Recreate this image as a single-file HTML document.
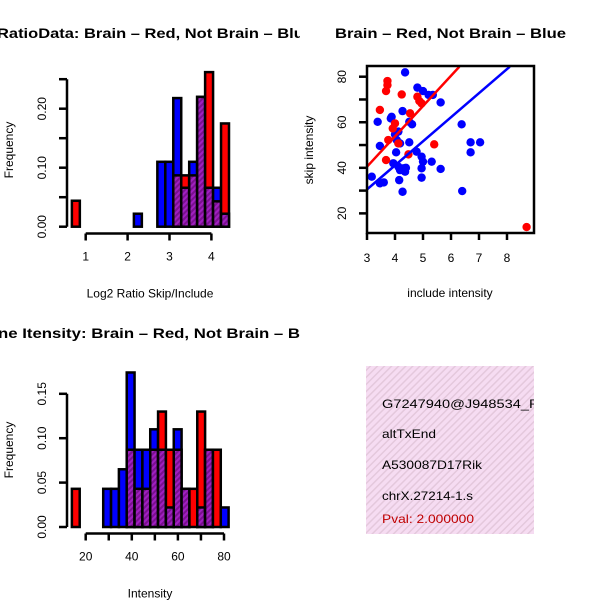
<!DOCTYPE html>
<html><head><meta charset="utf-8"><style>
html,body{margin:0;padding:0;background:#fff}
svg{display:block;font-family:"Liberation Sans",sans-serif}
</style></head><body>
<svg id="s" width="600" height="600" viewBox="0 0 600 600">
<defs>
<pattern id="hatch" patternUnits="userSpaceOnUse" width="4" height="4" patternTransform="rotate(45)">
<rect width="4" height="4" fill="#a020c0"/><rect width="2" height="4" fill="#7a1090"/></pattern>
<pattern id="pink" patternUnits="userSpaceOnUse" width="5" height="5" patternTransform="rotate(45)">
<rect width="5" height="5" fill="#f6dcf2"/><rect width="1.5" height="5" fill="#e4c8dc"/></pattern>
<clipPath id="cl"><rect x="0" y="0" width="300" height="600"/></clipPath>
<clipPath id="cr"><rect x="300" y="0" width="234" height="600"/></clipPath>
<clipPath id="sc"><rect x="367" y="66" width="167" height="167"/></clipPath>
</defs>
<g clip-path="url(#cl)">
<text x="-3" y="38" font-size="14" font-weight="bold" textLength="316" lengthAdjust="spacingAndGlyphs">RatioData: Brain – Red, Not Brain – Blue</text>
<text x="-2" y="338" font-size="14" font-weight="bold" textLength="302" lengthAdjust="spacingAndGlyphs">ne Itensity: Brain – Red, Not Brain – B</text>
</g>
<text x="335" y="38" font-size="14" font-weight="bold" textLength="231" lengthAdjust="spacingAndGlyphs">Brain – Red, Not Brain – Blue</text>
<g id="h1"></g>
<g id="h2"></g>
<g id="sp"></g>
<g clip-path="url(#cr)" font-size="12">
<rect x="366" y="366" width="168" height="168" fill="url(#pink)"/>
<text x="382" y="408" textLength="168" lengthAdjust="spacingAndGlyphs">G7247940@J948534_RC</text>
<text x="382" y="438" textLength="54" lengthAdjust="spacingAndGlyphs">altTxEnd</text>
<text x="382" y="469" textLength="100" lengthAdjust="spacingAndGlyphs">A530087D17Rik</text>
<text x="382" y="500" textLength="91" lengthAdjust="spacingAndGlyphs">chrX.27214-1.s</text>
<text x="382" y="523" fill="#c00000" textLength="92" lengthAdjust="spacingAndGlyphs">Pval: 2.000000</text>
</g>
</svg>
<script>
// Ratio histogram data
const ratioBinStarts=[0.67,2.15,2.71,2.90,3.09,3.28,3.47,3.66,3.85,4.04,4.23];
const ratioRed=[0.044,0,0,0,0.087,0.087,0.087,0.22,0.262,0.043,0.175];
const ratioBlue=[0,0.022,0.11,0.11,0.218,0.066,0.11,0.22,0.066,0.066,0.022];
const ratioXTicks=[1,2,3,4];
const ratioYTicks=[0,0.05,0.10,0.15,0.20,0.25];
const ratioYLabels=["0.00","","0.10","","0.20",""];
// Intensity histogram data
const intBinStarts=[14.0,17.4,20.8,24.2,27.6,31.0,34.4,37.8,41.2,44.6,48.0,51.4,54.8,58.2,61.6,65.0,68.4,71.8,75.2,78.6];
const intRed=[0.043,0,0,0,0,0,0,0.087,0.043,0.043,0.087,0.13,0.087,0.087,0.043,0.043,0.13,0.087,0.087,0];
const intBlue=[0,0,0,0,0.043,0.043,0.065,0.174,0.087,0.087,0.11,0.087,0.022,0.11,0.043,0,0.022,0.087,0,0.022];
const intXTicks=[20,30,40,50,60,70,80];
const intXLabels=["20","","40","","60","","80"];
const intYTicks=[0,0.05,0.10,0.15];
const intYLabels=["0.00","0.05","0.10","0.15"];
// Scatter data
const blueX=[4.36,3.38,3.46,3.17,3.46,3.6,3.85,3.88,4.0,4.06,4.12,4.18,4.04,3.94,4.12,4.18,4.3,4.36,4.39,4.15,4.27,4.27,4.51,4.61,4.51,4.77,4.8,5.0,5.2,5.35,4.95,5.0,4.95,4.95,5.31,5.63,5.63,6.38,6.4,6.7,7.04,6.7];
const blueY=[81.9,60.2,49.6,36.1,33.2,33.6,61.7,62.4,54.7,52.2,55.9,50.7,46.8,42.0,40.5,39.0,39.8,38.3,40,34.6,29.5,64.9,60.2,59.1,51.2,47.1,75.2,73.7,72,72,44.9,42.7,39.8,35.7,42.7,68.7,39.5,59.1,29.8,51.2,51.2,46.8];
const redX=[3.73,3.73,3.68,3.46,4.24,4.8,4.87,4.95,3.92,4.0,3.76,3.68,4.12,4.48,4.54,5.4,8.7];
const redY=[78.1,76.3,73.7,65.4,72.2,71.2,69.3,68.3,57.3,59.5,52.2,43.4,50.7,45.9,63.9,50.3,14];
const fitRed=[3.0,40.5,6.3,84.4];
const fitBlue=[3.0,30.5,8.1,84.4];
const scXTicks=[3,4,5,6,7,8];
const scYTicks=[20,30,40,50,60,70,80];
const scYLabels=["20","","40","","60","","80"];

const NS="http://www.w3.org/2000/svg";
function mk(p,t,a){const e=document.createElementNS(NS,t);for(const k in a)e.setAttribute(k,a[k]);p.appendChild(e);return e;}

function hist(g,starts,red,blue,bw,xs,ys,y0,yTicks,yLabels,xTicks,xLabels,axY,xlab,ylabY){
  starts.forEach((s,i)=>{
    const x1=xs(s),x2=xs(s+bw),r=red[i],b=blue[i],mx=Math.max(r,b),mn=Math.min(r,b);
    if(mx<=0)return;
    const big=mk(g,'rect',{x:x1,y:ys(mx),width:x2-x1,height:y0-ys(mx),fill:r>=b?'#ff0000':'#0000ff',stroke:'#000','stroke-width':2.5});
    
    
    if(mn>0){const o=mk(g,'rect',{x:x1,y:ys(mn),width:x2-x1,height:y0-ys(mn),fill:'url(#hatch)',stroke:'#000','stroke-width':2.5});
      
      }
  });
  mk(g,'line',{x1:67,x2:67,y1:ys(yTicks[yTicks.length-1]),y2:ys(0),stroke:'#000','stroke-width':2.5});
  yTicks.forEach((t,i)=>{const y=ys(t);mk(g,'line',{x1:59,x2:67,y1:y,y2:y,stroke:'#000','stroke-width':2.5});
    if(yLabels[i]){const tx=mk(g,'text',{x:0,y:0,'font-size':12,'text-anchor':'middle',transform:`translate(46,${y}) rotate(-90)`});tx.textContent=yLabels[i];
      
      }});
  mk(g,'line',{x1:xs(xTicks[0]),x2:xs(xTicks[xTicks.length-1]),y1:axY,y2:axY,stroke:'#000','stroke-width':2.5});
  xTicks.forEach((t,i)=>{const x=xs(t);mk(g,'line',{x1:x,x2:x,y1:axY,y2:axY+7,stroke:'#000','stroke-width':2.5});
    if(xLabels[i]){const tx=mk(g,'text',{x:x,y:axY+27,'font-size':12,'text-anchor':'middle'});tx.textContent=xLabels[i];
      
      }});
  const xl=mk(g,'text',{x:150,y:axY+64,'font-size':12,'text-anchor':'middle'});xl.textContent=xlab;
  
  
  const yl=mk(g,'text',{x:0,y:0,'font-size':12,'text-anchor':'middle',transform:`translate(13,${ylabY}) rotate(-90)`});yl.textContent='Frequency';
  
  
}
const h1=document.getElementById('h1');
hist(h1,ratioBinStarts,ratioRed,ratioBlue,0.19,v=>85.7+(v-1)*41.9,v=>226.7-v*590,226.7,ratioYTicks,ratioYLabels,ratioXTicks,["1","2","3","4"],233.5,'Log2 Ratio Skip/Include',150);
const h2=document.getElementById('h2');
hist(h2,intBinStarts,intRed,intBlue,3.4,v=>85.7+(v-20)*2.305,v=>527-v*888,527,intYTicks,intYLabels,intXTicks,intXLabels,533.5,'Intensity',450);

const sp=document.getElementById('sp');
const sx=v=>367+(v-3)*28, sy=v=>76.7+(80-v)*2.278;
const pts=mk(sp,'g',{'clip-path':'url(#sc)'});
blueX.forEach((x,i)=>{const c=mk(pts,'circle',{cx:sx(x),cy:sy(blueY[i]),r:4.2,fill:'#0000ff'});
  
  });
redX.forEach((x,i)=>{const c=mk(pts,'circle',{cx:sx(x),cy:sy(redY[i]),r:4.2,fill:'#ff0000'});
  
  });
const lr=mk(pts,'line',{x1:sx(fitRed[0]),y1:sy(fitRed[1]),x2:sx(fitRed[2]),y2:sy(fitRed[3]),stroke:'#ff0000','stroke-width':2.5});


const lb=mk(pts,'line',{x1:sx(fitBlue[0]),y1:sy(fitBlue[1]),x2:sx(fitBlue[2]),y2:sy(fitBlue[3]),stroke:'#0000ff','stroke-width':2.5});


mk(sp,'rect',{x:367,y:66,width:167,height:167,fill:'none',stroke:'#000','stroke-width':2.5});
scXTicks.forEach(t=>{const x=sx(t);mk(sp,'line',{x1:x,x2:x,y1:233,y2:240,stroke:'#000','stroke-width':2.5});
  const tx=mk(sp,'text',{x:x,y:262,'font-size':12,'text-anchor':'middle'});tx.textContent=t;
  
  });
scYTicks.forEach((t,i)=>{const y=sy(t);mk(sp,'line',{x1:359,x2:367,y1:y,y2:y,stroke:'#000','stroke-width':2.5});
  if(scYLabels[i]){const tx=mk(sp,'text',{x:0,y:0,'font-size':12,'text-anchor':'middle',transform:`translate(346,${y}) rotate(-90)`});tx.textContent=scYLabels[i];
  
  }});
const sxl=mk(sp,'text',{x:450,y:297,'font-size':12,'text-anchor':'middle'});sxl.textContent='include intensity';


const syl=mk(sp,'text',{x:0,y:0,'font-size':12,'text-anchor':'middle',transform:'translate(313,150) rotate(-90)'});syl.textContent='skip intensity';


</script>
</body></html>
